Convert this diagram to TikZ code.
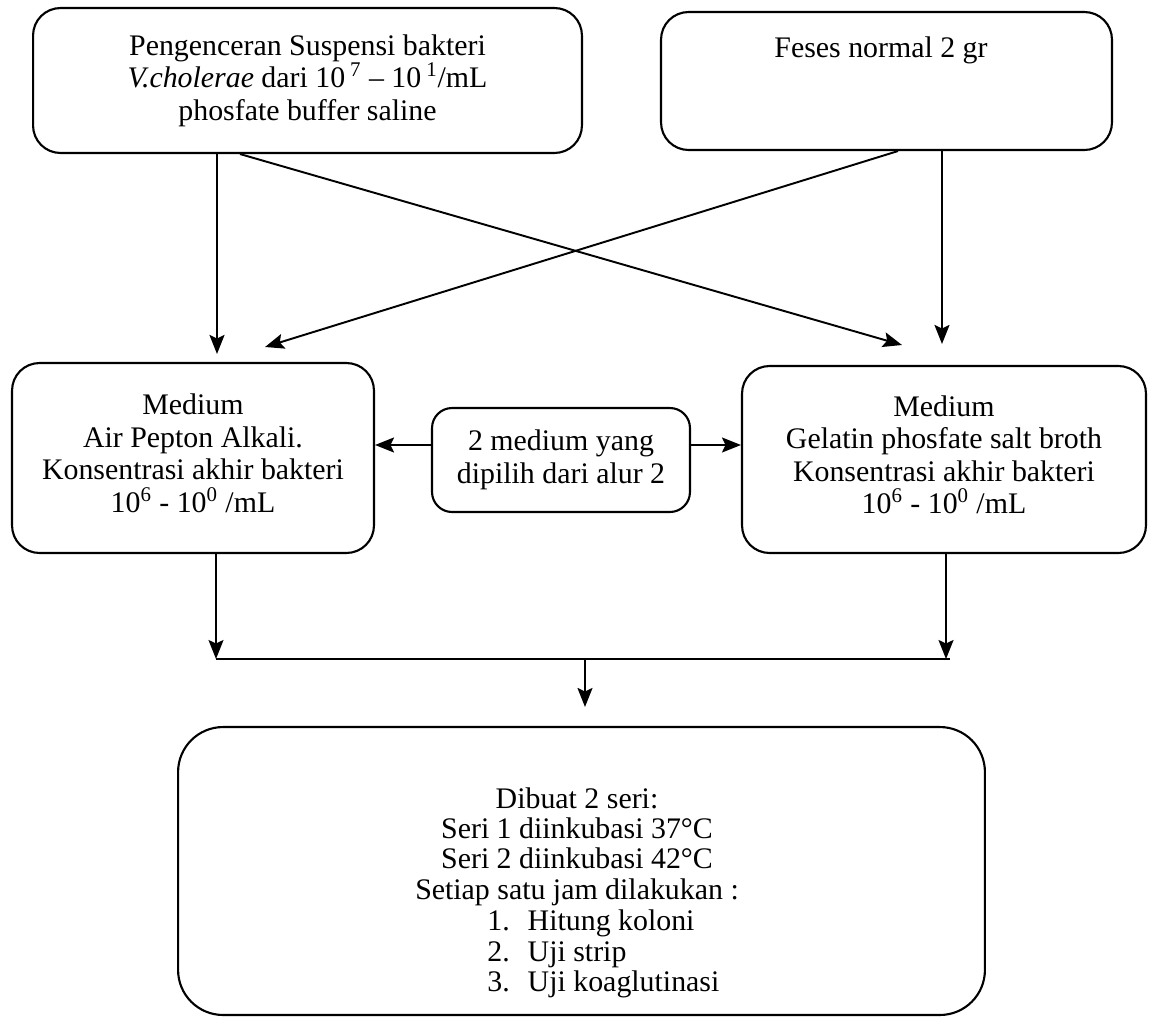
\documentclass[tikz,border=0pt]{standalone}
\usepackage{fontspec}
\setmainfont{Liberation Serif}
\usetikzlibrary{arrows.meta}
\begin{document}
\begin{tikzpicture}[x=0.02cm, y=-0.02cm,
    box/.style={draw, line width=1.2pt, rounded corners=0.55cm, align=center, inner sep=0pt,
      font=\fontsize{17}{18.5}\selectfont},
    txt/.style={align=center, inner sep=0pt, font=\fontsize{17}{17.3}\selectfont},
    arr/.style={-{Stealth[length=3.8mm, width=3mm, inset=0.7mm]}, line width=1.1pt}]
    \useasboundingbox (0,0) rectangle (1149,1018);
    \node[box, minimum width=10.98cm, minimum height=2.9cm] (suspensi) at (307.5,80.5)
      {Pengenceran Suspensi bakteri\\
       \textit{V.cholerae} dari 10\,\textsuperscript{7} -- 10\,\textsuperscript{1}/mL\\
       phosfate buffer saline};
    \node[box, minimum width=9.02cm, minimum height=2.76cm] (feses) at (886.5,81) {};
    \node[txt] (fesesT) at (881,50) {Feses normal 2 gr};
    \node[box, minimum width=7.24cm, minimum height=3.8cm] (apa) at (193,458)
      {Medium\\ Air Pepton Alkali.\\ Konsentrasi akhir bakteri\\
       10\textsuperscript{6} - 10\textsuperscript{0} /mL\\[-13pt]};
    \node[box, rounded corners=0.4cm, minimum width=5.16cm, minimum height=2.08cm] (dipilih) at (561,460)
      {2 medium yang\\ dipilih dari alur 2};
    \node[box, minimum width=8.08cm, minimum height=3.74cm] (gpsb) at (944,459.5)
      {Medium\\ Gelatin phosfate salt broth\\ Konsentrasi akhir bakteri\\
       10\textsuperscript{6} - 10\textsuperscript{0} /mL\\[-13pt]};
    \node[box, rounded corners=0.9cm, minimum width=16.14cm, minimum height=5.76cm] (seri) at (581.5,871) {};
    \node[txt] (seriT) at (577,846.5)
      {Dibuat 2 seri:\\ Seri 1 diinkubasi 37°C\\ Seri 2 diinkubasi 42°C\\ Setiap satu jam dilakukan :};
    \node[txt, anchor=north west] (ujiT) at (487,909)
      {\begin{tabular}{@{}p{23pt}@{}l@{}}
       1. & Hitung koloni\\ 2. & Uji strip\\ 3. & Uji koaglutinasi
       \end{tabular}};
    \coordinate (inC) at (265,347);
    \coordinate (inE) at (902,345);
    \coordinate (jl) at (216,659);
    \coordinate (jr) at (950,659);
    \coordinate (jm) at (585,659);
    \draw[arr, shorten >=0.16cm] (suspensi.south -| 217,0) -- (apa.north -| 217,0);
    \draw[arr] (suspensi.south -| 240,0) -- (inE);
    \draw[arr] (feses.south -| 898,0) -- (inC);
    \draw[arr, shorten >=0.42cm] (feses.south -| 942,0) -- (gpsb.north -| 942,0);
    \draw[arr] (dipilih.west |- 0,445) -- (apa.east |- 0,445);
    \draw[arr] (dipilih.east |- 0,445) -- (gpsb.west |- 0,445);
    \draw[arr] (apa.south -| jl) -- (jl);
    \draw[arr] (gpsb.south -| 946,0) -- (946,659);
    \draw[line width=1.1pt] (jl) -- (jr);
    \draw[arr, shorten >=0.38cm] (jm) -- (seri.north -| jm);
\end{tikzpicture}
\end{document}
